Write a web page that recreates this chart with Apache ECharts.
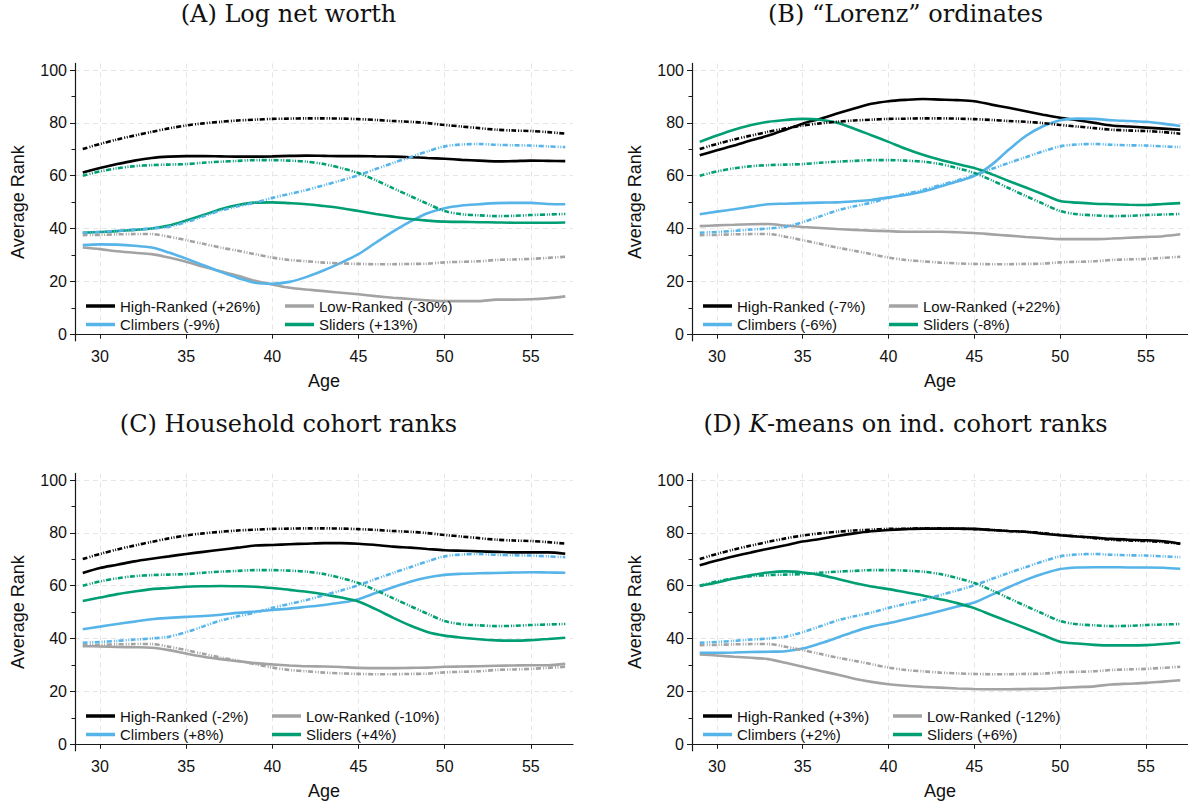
<!DOCTYPE html>
<html><head><meta charset="utf-8">
<script src="https://cdn.jsdelivr.net/npm/echarts@6/dist/echarts.min.js"></script>
<style>html,body{margin:0;padding:0;background:#fff}#c{width:1188px;height:808px}</style>
</head><body><div id="c"></div>
<script>
// ---------------- DATA ----------------
const ages = [29,30,31,32,33,34,35,36,37,38,39,40,41,42,43,44,45,46,47,48,49,50,51,52,53,54,55,56,57];
const xTicks = [30,35,40,45,50,55];
const yTicks = [0,20,40,60,80,100];
const yMinorTicks = [10,30,50,70,90];

const panelTitles = ['(A) Log net worth', '(B) \u201CLorenz\u201D ordinates', '(C) Household cohort ranks', '(D) {i|K}-means on ind. cohort ranks'];
const groupNames = ['High-Ranked', 'Low-Ranked', 'Climbers', 'Sliders'];
const groupChanges = [
  ['+26%', '-30%', '-9%', '+13%'],
  ['-7%', '+22%', '-6%', '-8%'],
  ['-2%', '-10%', '+8%', '+4%'],
  ['+3%', '-12%', '+2%', '+6%']
];

// baseline (dash-dot) series, identical in every panel
const baseHigh  = [70.1,72,73.7,75.2,76.6,77.9,79,79.8,80.4,80.9,81.2,81.5,81.6,81.7,81.7,81.6,81.4,81.1,80.7,80.4,79.9,79.2,78.6,78,77.4,77.1,76.9,76.5,75.9];
const baseLow   = [37.5,37.6,37.8,37.9,37.9,36.9,35.6,34.2,32.8,31.6,30.3,29,28.1,27.6,27.1,26.8,26.6,26.5,26.5,26.6,26.7,27.2,27.4,27.6,28.1,28.3,28.5,28.9,29.3];
const baseClimb = [38.4,38.7,39.1,39.6,40,40.7,42.4,44.6,46.8,48.4,49.8,51.6,53.1,54.6,56.4,58.2,60.2,62.5,64.8,67,69.2,71.1,71.8,72,71.7,71.5,71.4,71.1,70.8];
const baseSlide = [60,61.6,62.8,63.6,64,64.2,64.4,64.9,65.3,65.6,65.9,65.9,65.7,65.3,64.4,62.9,61,58.3,55.3,52.3,49.4,46.6,45.4,45,44.7,44.8,45.1,45.3,45.5];

// Panel A
const aHigh  = [61.2,62.9,64.4,65.7,66.7,67.2,67.4,67.4,67.3,67.2,67.2,67.3,67.5,67.6,67.5,67.4,67.4,67.3,67.2,67,66.7,66.4,66,65.7,65.4,65.5,65.7,65.6,65.5];
const aLow   = [32.8,32.2,31.4,30.8,30.3,29,27.4,25.5,23.8,22.1,20.2,18.8,17.6,16.9,16.3,15.7,15.1,14.4,13.8,13.3,12.8,12.5,12.5,12.5,13.1,13.1,13.2,13.6,14.3];
const aClimb = [33.7,34,33.9,33.5,32.8,30.9,28.6,26.1,23.6,21.3,19.5,19.1,19.8,21.7,24.2,27.1,30.3,34.6,38.8,42.6,45.8,47.7,48.7,49.2,49.6,49.7,49.7,49.3,49.2];
const aSlide = [38.4,38.7,39,39.5,40,41.1,43,45.1,47.3,48.9,49.8,49.9,49.6,49.2,48.5,47.7,46.6,45.5,44.5,43.6,43,42.6,42.5,42.4,42.3,42.2,42.2,42.2,42.3];
// Panel B
const bHigh  = [67.7,69.6,71.4,73.4,75.2,77.4,79.7,81.5,83.5,85.4,87.2,88.2,88.7,89,88.8,88.6,88.2,86.9,85.7,84.4,83.1,81.9,81,80,79,78.6,78.2,77.8,77.4];
const bLow   = [40.9,41.2,41.4,41.6,41.7,41.1,40.6,40.2,39.8,39.5,39.2,39,38.8,38.8,38.8,38.6,38.3,37.8,37.3,36.8,36.4,36,36,36,36.2,36.5,36.8,37.1,37.8];
const bClimb = [45.4,46.4,47.3,48.3,49.2,49.4,49.6,49.8,49.9,50.3,50.8,51.8,52.7,54,55.9,57.8,59.9,64.1,69.8,75,78.7,81,81.6,81.5,81,80.7,80.4,79.7,78.8];
const bSlide = [72.8,75.2,77.4,79.2,80.4,81.1,81.5,81.2,80,77.8,75.3,72.8,70.2,67.9,66,64.4,62.9,60.6,58,55.5,53,50.4,49.8,49.4,49.2,49,48.9,49.3,49.6];
// Panel C
const cHigh  = [64.8,66.7,67.9,69.2,70.2,71.1,72,72.8,73.6,74.4,75.2,75.4,75.7,75.9,76.1,76.1,75.9,75.4,74.8,74.4,73.9,73.4,73.2,73,72.8,72.6,72.6,72.6,72.1];
const cLow   = [37.1,37,36.8,36.7,36.5,35.6,34.3,33.1,32.2,31.4,30.7,30.2,29.8,29.5,29.4,29.2,28.9,28.8,28.8,28.9,29,29.3,29.4,29.5,29.7,29.8,29.9,29.9,30.4];
const cClimb = [43.5,44.5,45.5,46.4,47.3,47.8,48.2,48.5,49,49.7,50.2,50.8,51.3,52,52.7,53.6,54.9,57.2,59.4,61.5,63.1,64.1,64.5,64.7,64.8,65,65.1,65,64.9];
const cSlide = [54.2,55.5,56.8,57.8,58.7,59.1,59.6,59.8,59.9,59.8,59.6,59.1,58.4,57.7,56.7,55.5,54,51.1,47.9,44.9,42.5,41.1,40.3,39.7,39.3,39.2,39.4,39.8,40.3];
// Panel D
const dHigh  = [67.7,69.5,71.1,72.6,74,75.3,76.7,77.7,78.8,79.8,80.6,81.1,81.4,81.6,81.6,81.6,81.5,81.1,80.7,80.4,79.7,79.1,78.6,78.2,77.7,77.4,77.2,76.8,75.9];
const dLow   = [34,33.6,33.1,32.7,32.2,30.8,29.3,27.8,26.4,24.8,23.6,22.7,22.1,21.7,21.4,21.1,20.9,20.8,20.8,20.9,21,21.3,21.6,21.9,22.6,22.9,23.2,23.7,24.2];
const dClimb = [34.6,34.6,34.7,34.9,35,35.2,36.2,38.1,40.3,42.6,44.5,45.8,47.3,48.8,50.4,52.1,53.6,56.5,59.4,62.2,64.5,66.3,66.9,67,67,66.9,66.9,66.8,66.4];
const dSlide = [59.9,61.2,62.7,64,65,65.4,65,64.1,62.6,61,59.7,58.7,57.5,56.3,54.9,53.4,51.5,48.9,46.4,43.9,41.3,38.8,38.1,37.6,37.4,37.4,37.5,37.9,38.5];

// ---------------- STYLE / LAYOUT ----------------
const colors = ['#000000', '#a3a3a3', '#56B4E9', '#009E73'];
const panelData = [
  [aHigh, aLow, aClimb, aSlide],
  [bHigh, bLow, bClimb, bSlide],
  [cHigh, cLow, cClimb, cSlide],
  [dHigh, dLow, dClimb, dSlide]
];
const baseData = [baseHigh, baseLow, baseClimb, baseSlide];

const layout = [
  {left: 75,  top: 63.4,  tx: 288.5, ty: 2,   l1: 86,  l2: 285, ly: 298.5},
  {left: 692, top: 63.4,  tx: 905.5, ty: 2,   l1: 703, l2: 889, ly: 298.5},
  {left: 75,  top: 473.4, tx: 288.5, ty: 412, l1: 86,  l2: 272, ly: 708.5},
  {left: 692, top: 473.4, tx: 905.5, ty: 412, l1: 703, l2: 893, ly: 708.5}
];
const PW = 498, PH = 277.4;
const sans = 'Liberation Sans, Arial, Helvetica, sans-serif';
const serif = 'DejaVu Serif, serif';
const axisCol = '#1a1a1a';
const gridCol = '#e6e6e6';

const option = {
  animation: false,
  backgroundColor: '#ffffff',
  title: [], grid: [], xAxis: [], yAxis: [], legend: [], series: []
};

layout.forEach((L, p) => {
  option.title.push({
    text: panelTitles[p], left: L.tx, top: L.ty, textAlign: 'center', padding: 0,
    textStyle: {fontFamily: serif, fontSize: 24, fontWeight: 'normal', color: '#111',
      rich: {i: {fontFamily: serif, fontSize: 24, fontStyle: 'italic', color: '#111'}}}
  });
  option.grid.push({left: L.left, top: L.top, width: PW, height: PH, containLabel: false});
  option.xAxis.push({
    type: 'value', gridIndex: p, min: 28.55, max: 57.45,
    name: 'Age', nameLocation: 'middle', nameGap: 31,
    nameTextStyle: {fontFamily: sans, fontSize: 18, color: '#111'},
    axisLine: {show: true, lineStyle: {color: axisCol, width: 1.2}},
    axisTick: {show: true, length: 4.5, customValues: xTicks, lineStyle: {color: axisCol, width: 1}},
    axisLabel: {customValues: xTicks, fontFamily: sans, fontSize: 16, color: '#111', margin: 8},
    splitLine: {show: true, lineStyle: {color: gridCol, type: [5, 4], width: 1}}
  });
  option.yAxis.push({
    type: 'value', gridIndex: p, min: -2.5, max: 102.5, position: 'left',
    name: 'Average Rank', nameLocation: 'middle', nameGap: 48, nameRotate: 90,
    nameTextStyle: {fontFamily: sans, fontSize: 18, color: '#111'},
    axisLine: {show: true, onZero: false, lineStyle: {color: axisCol, width: 1.2}},
    axisTick: {show: true, length: 5, customValues: yTicks, lineStyle: {color: axisCol, width: 1}},
    axisLabel: {customValues: yTicks, fontFamily: sans, fontSize: 16, color: '#111', margin: 8},
    splitLine: {show: true, lineStyle: {color: gridCol, type: [5, 4], width: 1}}
  });
  // minor ticks axis
  option.yAxis.push({
    type: 'value', gridIndex: p, min: -2.5, max: 102.5, position: 'left',
    axisLine: {show: false},
    axisTick: {show: true, length: 3.5, customValues: yMinorTicks, lineStyle: {color: axisCol, width: 1}},
    axisLabel: {show: false}, splitLine: {show: false}
  });
  const names = groupNames.map((g, k) => g + ' (' + groupChanges[p][k] + ')');
  const legCommon = {
    orient: 'vertical', top: L.ly, padding: 0, itemGap: 3.5, itemWidth: 29, itemHeight: 3.5,
    icon: 'rect', selectedMode: false,
    textStyle: {fontFamily: sans, fontSize: 15, color: '#111'}
  };
  option.legend.push(Object.assign({}, legCommon, {left: L.l1, data: [names[0], names[2]]}));
  option.legend.push(Object.assign({}, legCommon, {left: L.l2, data: [names[1], names[3]]}));
  // solid panel series
  panelData[p].forEach((arr, k) => {
    option.series.push({
      type: 'line', name: names[k], xAxisIndex: p, yAxisIndex: 2 * p,
      data: ages.map((a, i) => [a, arr[i]]),
      symbol: 'none', smooth: 0.3, color: colors[k],
      lineStyle: {color: colors[k], width: 2.6}, z: 2
    });
  });
  // baseline dash-dot series
  baseData.forEach((arr, k) => {
    option.series.push({
      type: 'line', name: 'Baseline ' + groupNames[k], xAxisIndex: p, yAxisIndex: 2 * p,
      data: ages.map((a, i) => [a, arr[i]]),
      symbol: 'none', smooth: 0.3, color: colors[k],
      lineStyle: {color: colors[k], width: 2.6, type: [5, 2, 1, 1.5, 1, 1.5]}, z: 3
    });
  });
});

const chart = echarts.init(document.getElementById('c'), null, {renderer: 'svg', width: 1188, height: 808});
chart.setOption(option);
</script></body></html>
